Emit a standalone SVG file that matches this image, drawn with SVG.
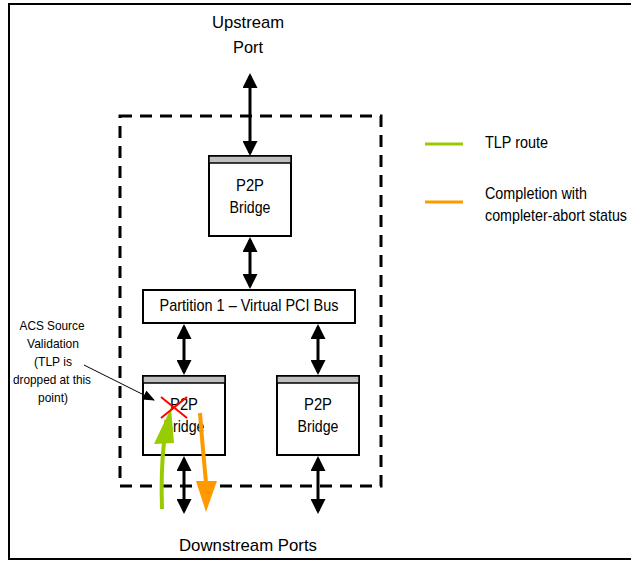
<svg xmlns="http://www.w3.org/2000/svg" width="631" height="561" viewBox="0 0 631 561">
<style>
text{font-family:"Liberation Sans",Arial,sans-serif;fill:#000;text-anchor:middle}
.t16{font-size:17px}
.t13{font-size:13.5px}
.st{text-anchor:start}
.box{fill:#fff;stroke:#000;stroke-width:2}
.bar{fill:#bfbfbf;stroke:#000;stroke-width:1.5}
.conn{stroke:#000;stroke-width:3;fill:none}
</style>
<defs>
<marker id="ah" markerWidth="5" markerHeight="5" refX="4" refY="2.5" orient="auto-start-reverse" markerUnits="strokeWidth">
<path d="M0,0 L5,2.5 L0,5 Z" fill="#000"/>
</marker>
<marker id="thin" markerWidth="12" markerHeight="10" refX="11" refY="5" orient="auto" markerUnits="userSpaceOnUse">
<path d="M0,0 L12,5 L0,10 Z" fill="#000"/>
</marker>
</defs>
<rect x="9" y="4" width="640" height="555" fill="#fff" stroke="#000" stroke-width="2"/>
<rect x="120" y="116" width="261" height="370" fill="none" stroke="#000" stroke-width="3" stroke-dasharray="12,8"/>
<g id="upstream"><text class="t16" x="248" y="28" textLength="72" lengthAdjust="spacingAndGlyphs">Upstream</text><text class="t16" x="248" y="53" textLength="30" lengthAdjust="spacingAndGlyphs">Port</text></g>
<g id="downstream"><text class="t16" x="248" y="551" textLength="138" lengthAdjust="spacingAndGlyphs">Downstream Ports</text></g>
<g id="bridge-top"><rect class="box" x="209" y="156" width="82" height="80"/><rect class="bar" x="209" y="156" width="82" height="7"/><text class="t16" x="250" y="191" textLength="28" lengthAdjust="spacingAndGlyphs">P2P</text><text class="t16" x="250" y="213" textLength="41" lengthAdjust="spacingAndGlyphs">Bridge</text></g>
<g id="bus"><rect class="box" x="143" y="290" width="212" height="33"/><text class="t16" x="249" y="311" textLength="179" lengthAdjust="spacingAndGlyphs">Partition 1 – Virtual PCI Bus</text></g>
<g id="bridge-left"><rect class="box" x="143" y="376" width="82" height="79"/><rect class="bar" x="143" y="376" width="82" height="7"/><text class="t16" x="184" y="410" textLength="28" lengthAdjust="spacingAndGlyphs">P2P</text><text class="t16" x="184" y="432" textLength="41" lengthAdjust="spacingAndGlyphs">Bridge</text></g>
<g id="bridge-right"><rect class="box" x="277" y="376" width="82" height="79"/><rect class="bar" x="277" y="376" width="82" height="7"/><text class="t16" x="318" y="410" textLength="28" lengthAdjust="spacingAndGlyphs">P2P</text><text class="t16" x="318" y="432" textLength="41" lengthAdjust="spacingAndGlyphs">Bridge</text></g>
<g id="acs-note"><text class="t13" x="52" y="330" textLength="65" lengthAdjust="spacingAndGlyphs">ACS Source</text><text class="t13" x="53" y="348" textLength="52" lengthAdjust="spacingAndGlyphs">Validation</text><text class="t13" x="53" y="366" textLength="38" lengthAdjust="spacingAndGlyphs">(TLP is</text><text class="t13" x="52" y="384" textLength="78" lengthAdjust="spacingAndGlyphs">dropped at this</text><text class="t13" x="53" y="402" textLength="30" lengthAdjust="spacingAndGlyphs">point)</text></g>
<g id="legend">
<line x1="425" y1="144" x2="463" y2="144" stroke="#99cc00" stroke-width="3"/>
<text class="t16 st" x="485" y="148" textLength="63" lengthAdjust="spacingAndGlyphs">TLP route</text>
<line x1="425" y1="202" x2="463" y2="202" stroke="#ff9900" stroke-width="3"/>
<text class="t16 st" x="485" y="199" textLength="102" lengthAdjust="spacingAndGlyphs">Completion with</text>
<text class="t16 st" x="485" y="221" textLength="142" lengthAdjust="spacingAndGlyphs">completer-abort status</text>
</g>
<g id="connectors">
<line class="conn" x1="250" y1="76" x2="250" y2="153" marker-start="url(#ah)" marker-end="url(#ah)"/>
<line class="conn" x1="250" y1="240" x2="250" y2="286" marker-start="url(#ah)" marker-end="url(#ah)"/>
<line class="conn" x1="184" y1="327" x2="184" y2="372" marker-start="url(#ah)" marker-end="url(#ah)"/>
<line class="conn" x1="318" y1="327" x2="318" y2="372" marker-start="url(#ah)" marker-end="url(#ah)"/>
<line class="conn" x1="184" y1="459" x2="184" y2="511" marker-start="url(#ah)" marker-end="url(#ah)"/>
<line class="conn" x1="318" y1="459" x2="318" y2="511" marker-start="url(#ah)" marker-end="url(#ah)"/>
<line x1="84" y1="365" x2="154" y2="400" stroke="#000" stroke-width="1" marker-end="url(#thin)"/>
<path d="M162,509 C161,480 162,460 164,442" fill="none" stroke="#99cc00" stroke-width="4"/>
<path d="M154,444 L171,408 L174,443 Z" fill="#99cc00"/>
<path d="M200,413 C202,440 204,460 206,483" fill="none" stroke="#ff9900" stroke-width="4"/>
<path d="M196,481 L217,481 L206,512 Z" fill="#ff9900"/>
<g stroke="#ff0000" stroke-width="2"><line x1="161" y1="397" x2="187" y2="418"/><line x1="187" y1="397" x2="161" y2="418"/></g>
</g>
</svg>
